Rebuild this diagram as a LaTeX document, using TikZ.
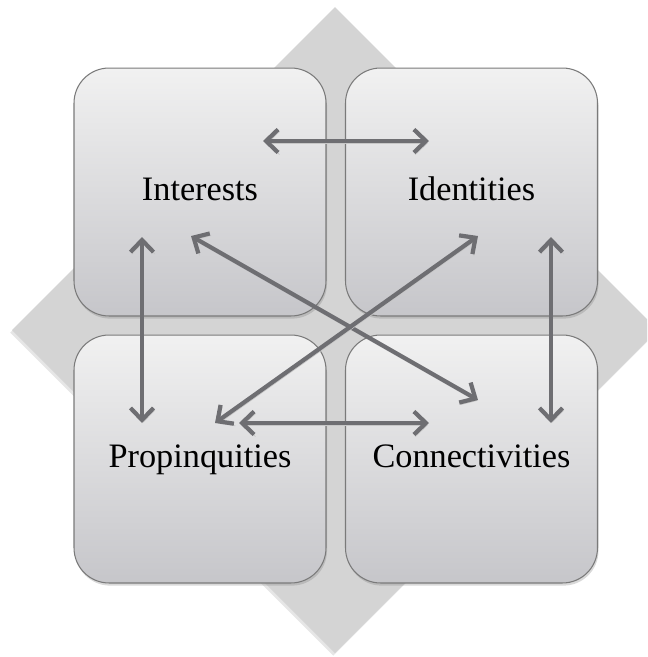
\documentclass[tikz,border=0pt]{standalone}
\usepackage{fontspec}
\setmainfont{Liberation Serif}
\usetikzlibrary{arrows.meta, calc, shadows}

\definecolor{diamondgray}{HTML}{D4D4D4}
\definecolor{arrowgray}{HTML}{6E6E72}
\definecolor{boxtop}{HTML}{F1F1F1}
\definecolor{boxbottom}{HTML}{C6C6CA}
\definecolor{boxline}{HTML}{7A7A7A}

\begin{document}
\begin{tikzpicture}[
    x=0.02cm, y=-0.02cm,
    box/.style={rectangle, rounded corners=0.7cm, draw=boxline, line width=0.6pt, top color=boxtop, bottom color=boxbottom, minimum width=5.04cm, minimum height=4.96cm, text height=0.92em, text depth=0pt, font=\fontsize{19.5}{22}\selectfont, drop shadow={opacity=0.3, shadow xshift=0.6pt, shadow yshift=-1.5pt}},
    link/.style={{Straight Barb[length=2.4mm, width=4.6mm]}-{Straight Barb[length=2.4mm, width=4.6mm]}, line width=2.4pt, draw=arrowgray, preaction={draw=black!22, transform canvas={shift={(0.8pt,-1.2pt)}}}}
]
\useasboundingbox (0,0) rectangle (647,657);

% Backdrop diamond
\begin{scope}
\clip (0,0) rectangle (647,657);
\fill[diamondgray, drop shadow={opacity=0.2, shadow xshift=-1pt, shadow yshift=-1.5pt}] (335,7) -- (658,330) -- (335,653) -- (12,330) -- cycle;
\end{scope}

% Boxes - Top row
\node[box] (interests) at (200,192) {Interests};
\node[box] (identities) at (471.5,192) {Identities};

% Boxes - Bottom row
\node[box] (propinq) at (200,459) {Propinquities};
\node[box] (connect) at (471.5,459) {Connectivities};

% Arrow ends
\coordinate (intA) at ($(interests)+(63,-51)$);
\coordinate (intB) at ($(interests)+(-58,45)$);
\coordinate (intC) at ($(interests)+(-9,44)$);
\coordinate (idA) at ($(identities)+(-42.5,-51)$);
\coordinate (idB) at ($(identities)+(79.5,45)$);
\coordinate (idC) at ($(identities)+(6.5,44)$);
\coordinate (propA) at ($(propinq)+(-58,-36)$);
\coordinate (propB) at ($(propinq)+(39,-36)$);
\coordinate (propC) at ($(propinq)+(15,-36)$);
\coordinate (conA) at ($(connect)+(79.5,-36)$);
\coordinate (conB) at ($(connect)+(-42.5,-36)$);
\coordinate (conC) at ($(connect)+(6.5,-59)$);

% Arrows
\draw[link] (intA) -- (idA);
\draw[link] (intB) -- (propA);
\draw[link] (idB) -- (conA);
\draw[link] (propB) -- (conB);
\draw[link] (intC) -- (conC);
\draw[link] (idC) -- (propC);

\end{tikzpicture}
\end{document}
